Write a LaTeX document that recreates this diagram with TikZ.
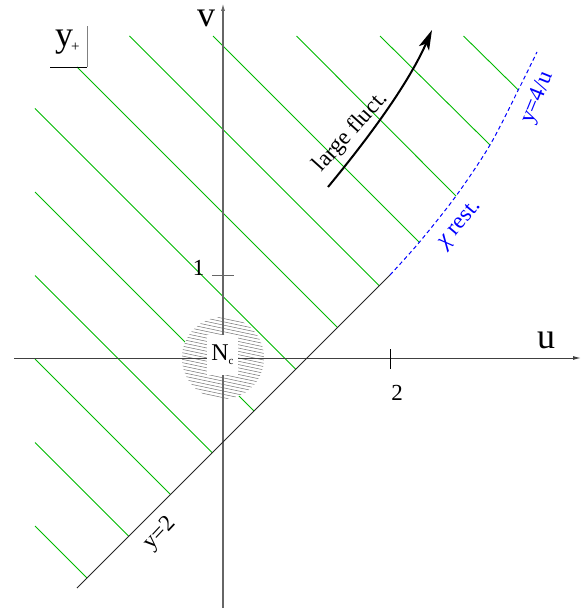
\documentclass[tikz,border=0pt]{standalone}
\usepackage{fontspec}
\setmainfont{Liberation Serif}
\usetikzlibrary{arrows.meta}
\definecolor{hgreen}{RGB}{0,185,0}
\begin{document}
\begin{tikzpicture}[x=1pt,y=-1pt,
  lbl/.style={font=\fontsize{23}{23}\selectfont, inner sep=0pt},
  biglbl/.style={font=\fontsize{36}{36}\selectfont, inner sep=0pt},
  hatchline/.style={hgreen, line width=0.9pt},
  axisv/.style={black!60, line width=1.4pt, -{Latex[length=8pt,width=4pt]}},
  axish/.style={black!75, line width=1pt, -{Latex[length=8pt,width=4pt]}},
  bluelbl/.style={lbl, blue}]
\useasboundingbox (0,0) rectangle (587,612);

% green hatching of the region
\foreach \sx/\sy/\ex/\ey in {35/526/87/578, 35/442.5/128.75/536.25, 35/359/170.5/494.5, 35/275.5/212.25/452.75, 35/192/254/411, 35/108.5/295.75/369.25, 77/67/337.5/327.5, 129.5/36/379.25/285.75, 213/36/419.3/242.3, 296.5/36/456/196, 380/36/490/145, 463.5/36/518.3/90}
  \draw[hatchline] (\sx,\sy) -- (\ex,\ey);

% hatched disc
\fill[white] (223,358) circle (41);
\begin{scope}
\clip (223,358) circle (41);
\foreach \k in {-16,...,16}
  \draw[black!55, line width=0.5pt] (178,358+3.3*\k-9.5) -- (268,358+3.3*\k+9.5);
\end{scope}

% axes
\coordinate (uL) at (14,358); \coordinate (uR) at (581,358);
\coordinate (vB) at (223,608); \coordinate (vT) at (223,3);
\draw[axish] (uL) -- (uR);
\draw[axisv] (vB) -- (vT);
% ticks
\coordinate (t1a) at (212,275.5); \coordinate (t1b) at (234,275.5);
\coordinate (t2a) at (390,349); \coordinate (t2b) at (390,369);
\draw[black!60, line width=1.2pt] (t1a) -- (t1b);
\draw[black, line width=1pt] (t2a) -- (t2b);

% N_c
\node[fill=white, inner sep=0pt, minimum width=31pt, minimum height=40pt, font=\fontsize{24}{24}\selectfont] (Nc) at (222.5,355) {N\raisebox{-4pt}{\fontsize{11}{11}\selectfont c}};

% line y=2
\coordinate (y2a) at (77,588); \coordinate (y2b) at (390,275);
\draw[black!85, line width=1pt] (y2a) -- (y2b);
% curve y=4/u
\draw[blue, line width=1pt, dash pattern=on 4pt off 3pt] plot[smooth] coordinates {(390,275) (419.3,242.3) (456,196) (490,145) (518.3,90) (537,52)};

% labels
\node[biglbl] (ulbl) at (546,340) {u};
\node[biglbl] (vlbl) at (206,18.5) {v};
\node[lbl] (one) at (198.5,268) {1};
\node[lbl] (two) at (397,393) {2};
\node[lbl, rotate=47] (y2lbl) at (160,534) {y=2};
\node[bluelbl, rotate=50] (chi) at (460,225) {\textit{χ} rest.};
\node[bluelbl, rotate=68] (y4u) at (538,98) {y=4/u};
\node[lbl, rotate=48] (lf) at (351,132) {large fluct.};

% arrow
\coordinate (fa) at (328,187); \coordinate (fb) at (432,30);
\draw[line width=2pt, -{Stealth[length=20pt,width=11pt,inset=5pt]}] (fa) .. controls (375,130) and (410,80) .. (fb);

% y+ box
\node[biglbl, anchor=base west] (yplus) at (55,47) {y\kern-2pt\raisebox{-5pt}{\fontsize{15}{15}\selectfont+}};
\coordinate (bxa) at (50,67); \coordinate (bxb) at (87,67); \coordinate (bxc) at (87,26);
\draw[black, line width=0.8pt] (bxa) -- (bxb);
\draw[black!50, line width=0.8pt] (bxb) -- (bxc);
\end{tikzpicture}
\end{document}
